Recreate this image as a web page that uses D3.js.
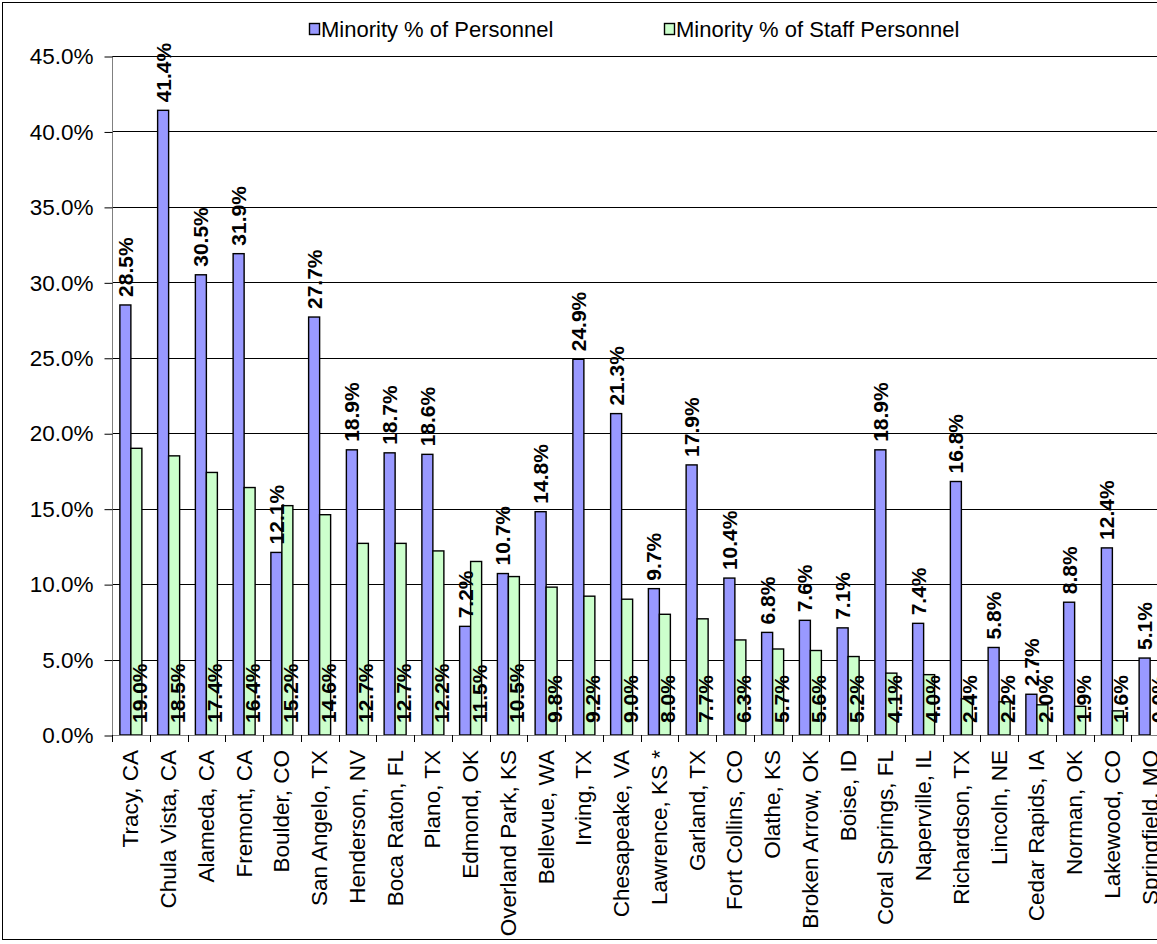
<!DOCTYPE html>
<html><head><meta charset="utf-8">
<script src="https://cdn.jsdelivr.net/npm/d3@7"></script>
<style>body{margin:0;background:#fff;overflow:hidden}text{font-family:Arial,"Liberation Sans",sans-serif}</style>
</head><body>
<svg id="chart" width="1157" height="944"></svg>
<script>
const categories = ["Tracy, CA","Chula Vista, CA","Alameda, CA","Fremont, CA","Boulder, CO","San Angelo, TX","Henderson, NV","Boca Raton, FL","Plano, TX","Edmond, OK","Overland Park, KS","Bellevue, WA","Irving, TX","Chesapeake, VA","Lawrence, KS *","Garland, TX","Fort Collins, CO","Olathe, KS","Broken Arrow, OK","Boise, ID","Coral Springs, FL","Naperville, IL","Richardson, TX","Lincoln, NE","Cedar Rapids, IA","Norman, OK","Lakewood, CO","Springfield, MO"];
const personnel = [28.5,41.4,30.5,31.9,12.1,27.7,18.9,18.7,18.6,7.2,10.7,14.8,24.9,21.3,9.7,17.9,10.4,6.8,7.6,7.1,18.9,7.4,16.8,5.8,2.7,8.8,12.4,5.1];
const staff = [19.0,18.5,17.4,16.4,15.2,14.6,12.7,12.7,12.2,11.5,10.5,9.8,9.2,9.0,8.0,7.7,6.3,5.7,5.6,5.2,4.1,4.0,2.4,2.2,2.0,1.9,1.6,0.0];
const seriesNames = ["Minority % of Personnel","Minority % of Staff Personnel"];
const yTicks = [0,5,10,15,20,25,30,35,40,45];

(function(){
const svg = d3.select("#chart");
const mLeft = 112, mTop = 56, mBottom = 735;
const band = 37.75;
const x = d3.scaleBand().domain(categories).range([mLeft, mLeft + band*categories.length]).paddingInner(0).paddingOuter(0);
const y = d3.scaleLinear().domain([0,45]).range([mBottom, mTop]);
const colors = ["#9999FF","#CCFFCC"];
const bw = 11;

// border
svg.append("rect").attr("x",2.5).attr("y",2.5).attr("width",1170).attr("height",937).attr("fill","none").attr("stroke","#000").attr("stroke-width",1);

// gridlines
svg.append("g").selectAll("line").data(yTicks.filter(d=>d>0)).join("line")
  .attr("x1",mLeft).attr("x2",1157).attr("y1",d=>Math.round(y(d))+0.5).attr("y2",d=>Math.round(y(d))+0.5)
  .attr("stroke","#000").attr("stroke-width",1);

// y axis
const yAxis = d3.axisLeft(y).tickValues(yTicks).tickFormat(d=>d.toFixed(1)+"%").tickSize(8).tickPadding(11);
const gy = svg.append("g").attr("transform",`translate(${mLeft+0.5},0.5)`).call(yAxis);
gy.select(".domain").attr("stroke","#808080").attr("d",`M0,${mTop}V${mBottom}`);
gy.selectAll(".tick line").attr("stroke","#000");
gy.selectAll(".tick text").attr("font-size","22.5px").attr("fill","#000").attr("font-family","Arial, 'Liberation Sans', sans-serif");

// bars
const g = svg.append("g");
const cx = d => x(d) + x.bandwidth()/2;
g.selectAll("rect.p").data(categories).join("rect").attr("class","p")
  .attr("x",(d)=>cx(d)-bw).attr("width",bw)
  .attr("y",(d,i)=>y(personnel[i])).attr("height",(d,i)=>mBottom-y(personnel[i]))
  .attr("fill",colors[0]).attr("stroke","#000").attr("stroke-width",1.4);
g.selectAll("rect.s").data(categories).join("rect").attr("class","s")
  .attr("x",(d)=>cx(d)).attr("width",bw)
  .attr("y",(d,i)=>y(staff[i])).attr("height",(d,i)=>mBottom-y(staff[i]))
  .attr("fill",colors[1]).attr("stroke","#000").attr("stroke-width",1.4);

// x axis
const xAxis = d3.axisBottom(x).tickSize(0).tickFormat("");
const gx = svg.append("g").attr("transform",`translate(0,${mBottom+0.5})`).call(xAxis);
gx.select(".domain").attr("stroke","#808080").attr("d",`M${mLeft},0H1157`);
svg.append("g").selectAll("line").data(d3.range(categories.length+1)).join("line")
  .attr("x1",i=>Math.round(mLeft+i*band)+0.5).attr("x2",i=>Math.round(mLeft+i*band)+0.5)
  .attr("y1",mBottom).attr("y2",mBottom+7).attr("stroke","#000");

// category labels
svg.append("g").selectAll("text").data(categories).join("text")
  .attr("transform",d=>`translate(${cx(d)},750) rotate(-90)`)
  .attr("text-anchor","end").attr("dominant-baseline","central")
  .attr("font-size","22.5px").text(d=>d);

// value labels
svg.append("g").selectAll("text").data(categories).join("text")
  .attr("transform",(d,i)=>`translate(${cx(d)-bw/2},${y(personnel[i])-8}) rotate(-90)`)
  .attr("dominant-baseline","central").attr("font-size","21px").attr("font-weight","bold")
  .text((d,i)=>personnel[i].toFixed(1)+"%");
svg.append("g").selectAll("text").data(categories).join("text")
  .attr("transform",(d,i)=>`translate(${cx(d)+bw/2+3},${mBottom-12}) rotate(-90)`)
  .attr("dominant-baseline","central").attr("font-size","21px").attr("font-weight","bold")
  .text((d,i)=>staff[i].toFixed(1)+"%");

// legend
const leg = svg.append("g");
const lx = [309, 664];
seriesNames.forEach((n,i)=>{
  leg.append("rect").attr("x",lx[i]+0.5).attr("y",23.5).attr("width",10).attr("height",11).attr("fill",colors[i]).attr("stroke","#000").attr("stroke-width",1.4);
  leg.append("text").attr("x",lx[i]+12).attr("y",37).attr("font-size","22px").text(n);
});
})();
</script>
</body></html>
